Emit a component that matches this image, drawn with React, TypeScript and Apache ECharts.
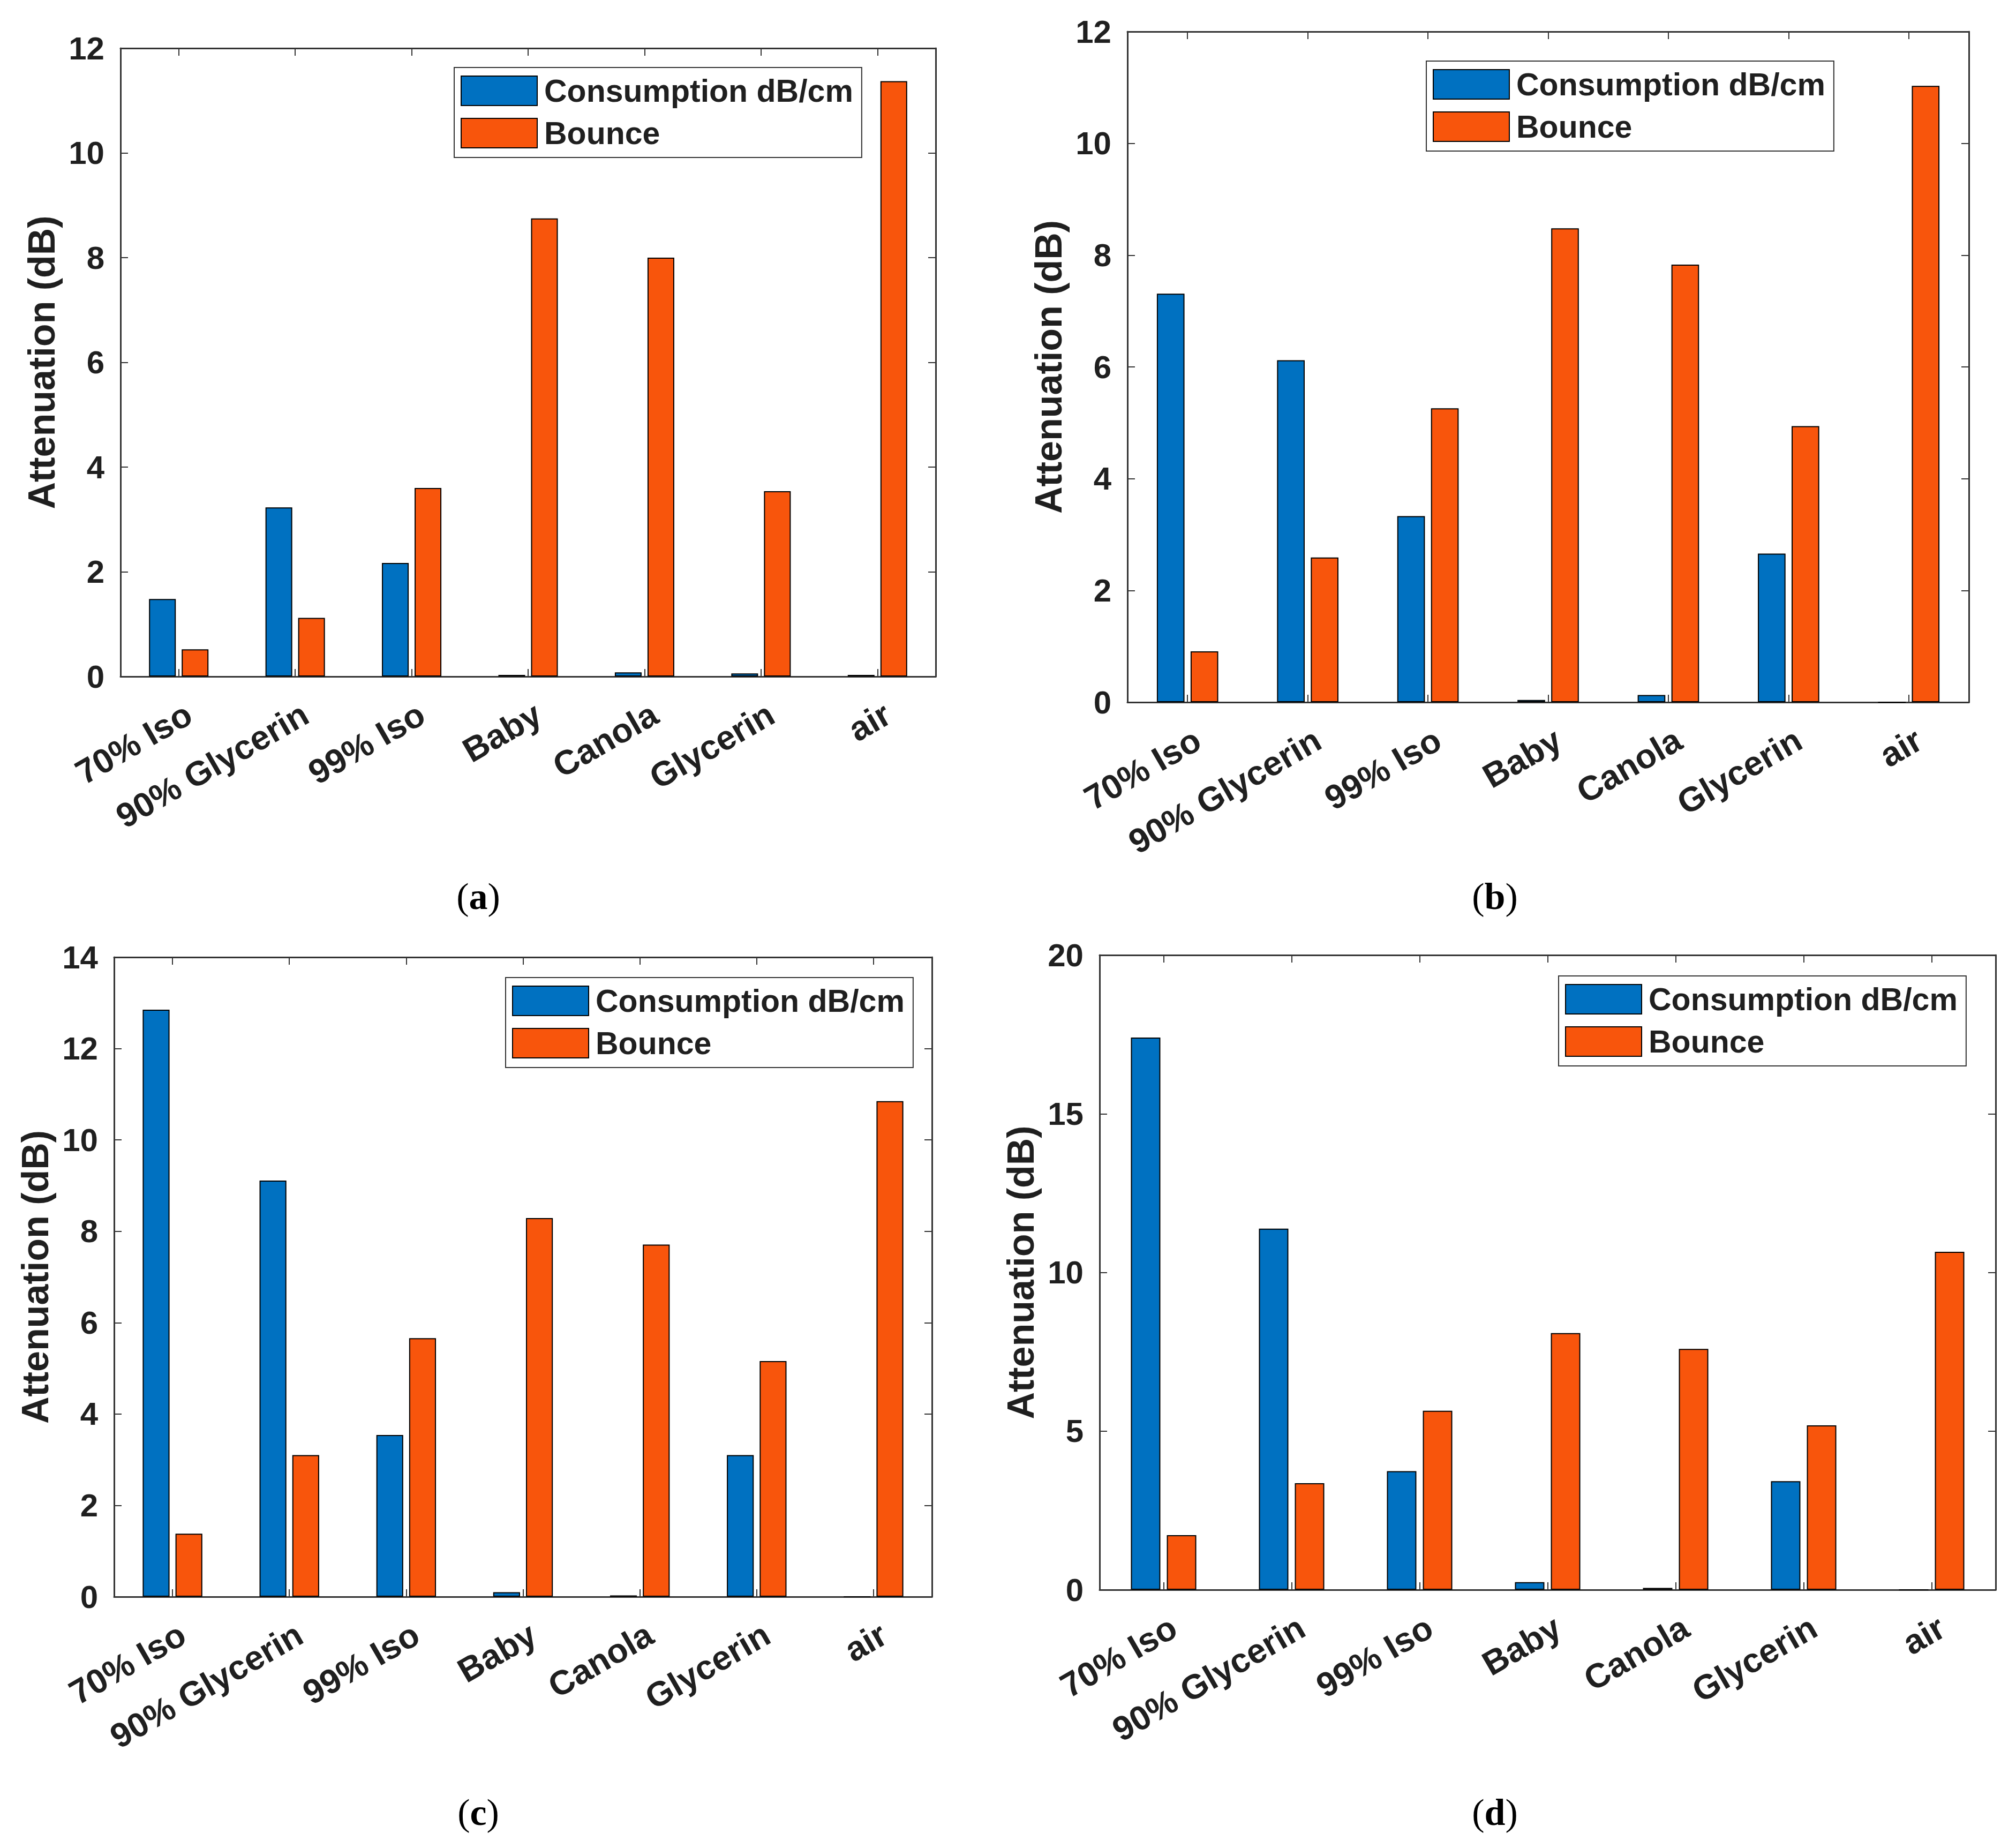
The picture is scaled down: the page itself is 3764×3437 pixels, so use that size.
import React, { useEffect, useRef } from "react";
import * as echarts from "echarts";

const categories = ["70% Iso", "90% Glycerin", "99% Iso", "Baby", "Canola", "Glycerin", "air"];
const seriesNames = ["Consumption dB/cm", "Bounce"];

const consumptionA = [1.48, 3.23, 2.17, 0.03, 0.08, 0.06, 0.03];
const bounceA = [0.52, 1.12, 3.6, 8.75, 8.0, 3.54, 11.37];

const consumptionB = [7.31, 6.12, 3.33, 0.04, 0.13, 2.66, 0];
const bounceB = [0.91, 2.59, 5.26, 8.48, 7.83, 4.94, 11.03];

const consumptionC = [12.85, 9.11, 3.54, 0.1, 0.03, 3.1, 0];
const bounceC = [1.38, 3.1, 5.66, 8.29, 7.71, 5.16, 10.85];

const consumptionD = [17.4, 11.38, 3.74, 0.24, 0.06, 3.42, 0];
const bounceD = [1.72, 3.36, 5.64, 8.09, 7.59, 5.18, 10.65];

const yMax = [12, 12, 14, 20];
const yInterval = [2, 2, 2, 5];
const captionLetters = ["a", "b", "c", "d"];
const yAxisTitle = "Attenuation (dB)";

const consumptionAll = [consumptionA, consumptionB, consumptionC, consumptionD];
const bounceAll = [bounceA, bounceB, bounceC, bounceD];

// layout (pixels)
const panels = [
  { left: 225, top: 90, width: 1522, height: 1173, legendLeft: 848, legendTop: 126, capX: 893, capY: 1673 },
  { left: 2105, top: 59, width: 1571, height: 1252, legendLeft: 2663, legendTop: 114, capX: 2791, capY: 1673 },
  { left: 213, top: 1787, width: 1527, height: 1194, legendLeft: 944, legendTop: 1825, capX: 893, capY: 3383 },
  { left: 2053, top: 1783, width: 1673, height: 1185, legendLeft: 2910, legendTop: 1822, capX: 2791, capY: 3383 },
];

const W = 3764;
const H = 3437;
const SANS = "'Liberation Sans', Arial, Helvetica, sans-serif";
const SERIF = "'Liberation Serif', 'Times New Roman', serif";
const AXIS_COLOR = "#333333";
const TEXT_COLOR = "#1f1f1f";
const BLUE = "#0071C1";
const ORANGE = "#F8550C";

function buildOption() {
  const grid: any[] = [];
  const xAxis: any[] = [];
  const yAxis: any[] = [];
  const series: any[] = [];
  const legend: any[] = [];
  const graphic: any[] = [];

  const axisLine = { show: true, onZero: false, lineStyle: { color: AXIS_COLOR, width: 3 } };
  const axisTick = { show: true, inside: true, length: 14, lineStyle: { color: AXIS_COLOR, width: 2 } };

  panels.forEach((p, i) => {
    grid.push({ left: p.left, top: p.top, width: p.width, height: p.height, containLabel: false });

    xAxis.push({
      type: "category",
      gridIndex: i,
      data: categories,
      position: "bottom",
      axisLine,
      axisTick: { ...axisTick, alignWithLabel: true },
      axisLabel: {
        interval: 0,
        rotate: 30,
        margin: 76,
        padding: [0, -22, 0, 0],
        fontSize: 64,
        fontWeight: "bold",
        fontFamily: SANS,
        color: TEXT_COLOR,
      },
      splitLine: { show: false },
    });
    xAxis.push({
      type: "category",
      gridIndex: i,
      data: categories,
      position: "top",
      axisLine,
      axisTick: { ...axisTick, alignWithLabel: true },
      axisLabel: { show: false },
      splitLine: { show: false },
    });

    yAxis.push({
      type: "value",
      gridIndex: i,
      min: 0,
      max: yMax[i],
      interval: yInterval[i],
      position: "left",
      axisLine,
      axisTick,
      splitLine: { show: false },
      axisLabel: {
        margin: 30,
        fontSize: 60,
        fontWeight: "bold",
        fontFamily: SANS,
        color: TEXT_COLOR,
      },
      name: yAxisTitle,
      nameLocation: "middle",
      nameGap: 112,
      nameTextStyle: {
        fontSize: 70,
        fontWeight: "bold",
        fontFamily: SANS,
        color: TEXT_COLOR,
      },
    });
    yAxis.push({
      type: "value",
      gridIndex: i,
      min: 0,
      max: yMax[i],
      interval: yInterval[i],
      position: "right",
      axisLine,
      axisTick,
      splitLine: { show: false },
      axisLabel: { show: false },
    });

    series.push({
      name: seriesNames[0],
      type: "bar",
      xAxisIndex: 2 * i,
      yAxisIndex: 2 * i,
      data: consumptionAll[i],
      barWidth: "23%",
      barGap: "22%",
      itemStyle: { color: BLUE, borderColor: "#000", borderWidth: 2 },
    });
    series.push({
      name: seriesNames[1],
      type: "bar",
      xAxisIndex: 2 * i,
      yAxisIndex: 2 * i,
      data: bounceAll[i],
      barWidth: "23%",
      barGap: "22%",
      itemStyle: { color: ORANGE, borderColor: "#000", borderWidth: 2 },
    });

    legend.push({
      data: seriesNames,
      orient: "vertical",
      left: p.legendLeft,
      top: p.legendTop,
      itemWidth: 142,
      itemHeight: 55,
      itemGap: 20,
      padding: [14, 16, 16, 12],
      borderColor: "#333",
      borderWidth: 2,
      backgroundColor: "#fff",
      selectedMode: false,
      icon: "rect",
      itemStyle: { borderColor: "#000", borderWidth: 2 },
      textStyle: {
        fontSize: 59,
        fontWeight: "bold",
        fontFamily: SANS,
        color: TEXT_COLOR,
        padding: [0, 0, 0, 8],
      },
    });

    graphic.push({
      type: "text",
      x: p.capX,
      y: p.capY,
      style: {
        text: "{p|(}{b|" + captionLetters[i] + "}{p|)}",
        align: "center",
        verticalAlign: "middle",
        rich: {
          p: { fontSize: 70, fontFamily: SERIF, fill: "#000" },
          b: { fontSize: 70, fontFamily: SERIF, fontWeight: "bold", fill: "#000" },
        },
      },
    });
  });

  return {
    animation: false,
    backgroundColor: "#ffffff",
    grid,
    xAxis,
    yAxis,
    series,
    legend,
    graphic,
  };
}

export default function App() {
  const ref = useRef<HTMLDivElement>(null);
  useEffect(() => {
    if (!ref.current) return;
    const chart = echarts.init(ref.current, null, { renderer: "svg" });
    chart.setOption(buildOption());
    return () => chart.dispose();
  }, []);
  return (
    <div
      ref={ref}
      style={{ position: "absolute", left: 0, top: 0, width: W, height: H, background: "#fff" }}
    />
  );
}
